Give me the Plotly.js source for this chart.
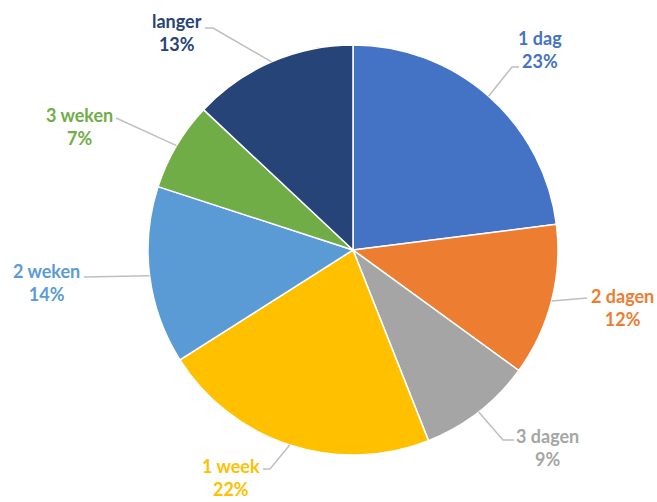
<!DOCTYPE html>
<html>
<head>
<meta charset="utf-8">
<script src="https://cdn.plot.ly/plotly-3.0.1.min.js"></script>
<style>html,body{margin:0;padding:0;background:#fff;}</style>
</head>
<body>
<div id="chart" style="width:657px;height:502px;"></div>
<script>
// ---- data ----
const categories = ["1 dag", "2 dagen", "3 dagen", "1 week", "2 weken", "3 weken", "langer"];
const percentages = [23, 12, 9, 22, 14, 7, 13];
const colors = ["#4472C4", "#ED7D31", "#A5A5A5", "#FFC000", "#5B9BD5", "#70AD47", "#264478"];

// ---- layout helpers (pixels) ----
const W = 657, H = 502;
const CX = 353, CY = 250, R = 205;
// label block centres and leader-line elbow/end points (layout only)
const labelCenters = [[540, 49], [622, 307], [547, 447], [231, 477], [46, 282], [79, 126], [177, 33]];
const leaderElbows = [[512, 67], [587, 298], [503, 440], [270, 469], [84, 277], [116, 118], [213, 28]];
const leaderEnds   = [[519, 67], [587, 298], [514, 440], [263, 469], [84, 277], [116, 118], [205, 28]];

const px = x => x / W;
const py = y => 1 - y / H;

const total = percentages.reduce((a, b) => a + b, 0);
let cum = 0;
const shapes = [];
const annotations = [];
categories.forEach((c, i) => {
  const mid = (cum + percentages[i] / 2) / total * 2 * Math.PI;
  cum += percentages[i];
  const ex = CX + R * Math.sin(mid), ey = CY - R * Math.cos(mid);
  const el = leaderElbows[i], en = leaderEnds[i];
  shapes.push({
    type: "path", xref: "paper", yref: "paper",
    path: `M ${px(ex)} ${py(ey)} L ${px(el[0])} ${py(el[1])} L ${px(en[0])} ${py(en[1])}`,
    line: {color: "#BFBFBF", width: 1.5}
  });
  annotations.push({
    xref: "paper", yref: "paper",
    x: px(labelCenters[i][0]), y: py(labelCenters[i][1]),
    xanchor: "center", yanchor: "middle",
    text: `<b>${c}</b><br><b>${percentages[i]}%</b>`,
    showarrow: false,
    font: {family: "Lato, 'Open Sans', sans-serif", size: 18, color: colors[i]},
    align: "center"
  });
});

const trace = {
  type: "pie",
  labels: categories,
  values: percentages,
  sort: false,
  direction: "clockwise",
  rotation: 0,
  marker: {colors: colors, line: {color: "#FFFFFF", width: 1.5}},
  textinfo: "none",
  hoverinfo: "label+percent",
  showlegend: false,
  domain: {x: [(CX - R) / W, (CX + R) / W], y: [1 - (CY + R) / H, 1 - (CY - R) / H]}
};

const layout = {
  width: W, height: H,
  margin: {l: 0, r: 0, t: 0, b: 0},
  paper_bgcolor: "#FFFFFF",
  showlegend: false,
  shapes: shapes,
  annotations: annotations
};

Plotly.newPlot("chart", [trace], layout, {displayModeBar: false, staticPlot: true});
</script>
</body>
</html>
